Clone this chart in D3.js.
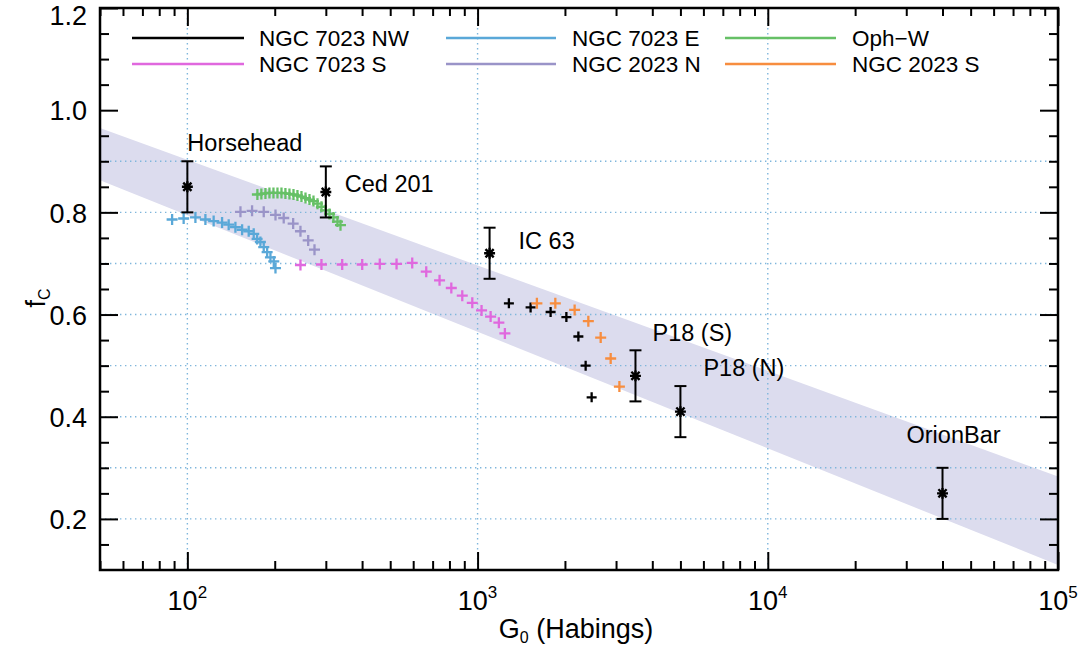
<!DOCTYPE html>
<html>
<head>
<meta charset="utf-8">
<script src="https://cdn.jsdelivr.net/npm/d3@7"></script>
<style>
  body { margin: 0; background: #fff; }
  text { font-family: "Liberation Sans", Arial, sans-serif; fill: #000; }
</style>
</head>
<body>
<svg id="chart" width="1083" height="648"></svg>
<script>
// ---- data ----
// NGC 7023 NW (black)
const nwG  = [1282, 1523, 1785, 2023, 2225, 2357, 2472];
const nwFc = [0.622, 0.614, 0.605, 0.595, 0.557, 0.500, 0.438];

// NGC 7023 E (blue)
const eG  = [88.6, 97.1, 106.6, 115.4, 123.2, 131.7, 138.8, 146.4, 154.4, 162.7, 169.3, 173.9, 178.5, 183.3, 188.3, 193.3, 198.5, 201.2];
const eFc = [0.786, 0.788, 0.790, 0.786, 0.783, 0.780, 0.776, 0.771, 0.766, 0.763, 0.758, 0.748, 0.742, 0.732, 0.722, 0.712, 0.704, 0.691];

// Oph-W (green)
const ophG  = [174.3, 179.9, 185.8, 191.8, 198.0, 204.4, 211.0, 217.7, 224.8, 232.1, 239.5, 247.3, 255.3, 263.5, 272.0, 280.8, 289.8, 299.2, 308.9, 318.7, 329.0, 337.0];
const ophFc = [0.835, 0.836, 0.837, 0.838, 0.838, 0.838, 0.838, 0.837, 0.836, 0.835, 0.833, 0.831, 0.828, 0.825, 0.822, 0.817, 0.811, 0.804, 0.797, 0.790, 0.782, 0.775];

// NGC 7023 S (magenta)
const sG  = [245.3, 289.8, 341.6, 400.4, 460.3, 525.8, 595.4, 665.5, 739.6, 811.9, 885.6, 958.9, 1032, 1109, 1184, 1242];
const sFc = [0.697, 0.698, 0.698, 0.698, 0.699, 0.699, 0.701, 0.684, 0.667, 0.652, 0.637, 0.623, 0.608, 0.596, 0.584, 0.563];

// NGC 2023 N (purple)
const n2G  = [152.4, 167.1, 183.3, 201.2, 214.8, 231.5, 245.3, 260.8, 274.2];
const n2Fc = [0.801, 0.803, 0.801, 0.795, 0.789, 0.778, 0.763, 0.745, 0.727];

// NGC 2023 S (orange)
const s2G  = [1601, 1853, 2160, 2408, 2656, 2875, 3081];
const s2Fc = [0.622, 0.622, 0.609, 0.587, 0.555, 0.514, 0.459];

// reference PDRs with error bars
const refNames = ["Horsehead", "Ced 201", "IC 63", "P18 (S)", "P18 (N)", "OrionBar"];
const refG     = [100, 300, 1100, 3500, 5000, 40000];
const refFc    = [0.85, 0.84, 0.72, 0.48, 0.41, 0.25];
const refErr   = [0.05, 0.05, 0.05, 0.05, 0.05, 0.05];

// shaded band (edges at G0 = 50 and 1e5)
const bandG     = [50, 1e5];
const bandUpper = [0.965, 0.283];
const bandLower = [0.863, 0.110];

// axes
const xMajorTicks = [1e2, 1e3, 1e4, 1e5];
const xTickExp    = ["2", "3", "4", "5"];
const yMajorTicks = [0.2, 0.4, 0.6, 0.8, 1.0, 1.2];
const yGridTicks  = [0.2, 0.3, 0.4, 0.5, 0.6, 0.7, 0.8, 0.9];

const series = [
  { name: "NGC 7023 NW", color: "#000000", g: nwG,  fc: nwFc, half: 5 },
  { name: "NGC 7023 E",  color: "#5aa8d8", g: eG,   fc: eFc,  half: 5.5 },
  { name: "Oph\u2212W",  color: "#66c066", g: ophG, fc: ophFc, half: 5.5 },
  { name: "NGC 7023 S",  color: "#e068de", g: sG,   fc: sFc,  half: 5.5 },
  { name: "NGC 2023 N",  color: "#9a94c8", g: n2G,  fc: n2Fc, half: 5.5 },
  { name: "NGC 2023 S",  color: "#f78d3f", g: s2G,  fc: s2Fc, half: 5.5 }
];

// ---- layout ----
const svg = d3.select("#chart");
const pLeft = 100, pRight = 1058, pTop = 8, pBottom = 570;

const x = d3.scaleLog().domain([50, 1e5]).range([pLeft, pRight]);
const y = d3.scaleLinear().domain([0.1, 1.2]).range([pBottom, pTop]);

svg.append("defs").append("clipPath").attr("id", "clip")
  .append("rect").attr("x", pLeft).attr("y", pTop)
  .attr("width", pRight - pLeft).attr("height", pBottom - pTop);

// band
const band = bandG.map((g, i) => ({ g: g, hi: bandUpper[i], lo: bandLower[i] }));
svg.append("path")
  .datum(band)
  .attr("clip-path", "url(#clip)")
  .attr("fill", "#dcdcee")
  .attr("d", d3.area().x(d => x(d.g)).y0(d => y(d.lo)).y1(d => y(d.hi)));

// dotted grid
const grid = svg.append("g").attr("stroke", "#7fb6dc").attr("stroke-width", 1.4)
  .attr("stroke-dasharray", "1.4,3.6");
grid.selectAll("line.h").data(yGridTicks).enter().append("line")
  .attr("x1", pLeft).attr("x2", pRight)
  .attr("y1", d => y(d)).attr("y2", d => y(d));
grid.selectAll("line.v").data(xMajorTicks.slice(0, 3)).enter().append("line")
  .attr("y1", pTop).attr("y2", pBottom)
  .attr("x1", d => x(d)).attr("x2", d => x(d));

// minor x ticks: 2..9 per decade inside the domain
const xMinor = [];
[10, 100, 1000, 10000].forEach(dec => {
  for (let k = 2; k <= 9; k++) {
    const v = dec * k;
    if (v >= 50 && v <= 1e5) xMinor.push(v);
  }
});
const yMinor = d3.range(0.15, 1.2, 0.05).filter(v => Math.abs(v * 5 - Math.round(v * 5)) > 1e-6);

function styleAxis(g) {
  g.select(".domain").remove();
  g.selectAll(".tick line").attr("stroke", "#000").attr("stroke-width", 2);
}

// bottom
svg.append("g").attr("transform", `translate(0,${pBottom})`)
  .call(d3.axisBottom(x).tickValues(xMajorTicks).tickSize(-18).tickFormat(""))
  .call(styleAxis);
svg.append("g").attr("transform", `translate(0,${pBottom})`)
  .call(d3.axisBottom(x).tickValues(xMinor).tickSize(-9).tickFormat(""))
  .call(styleAxis);
// top
svg.append("g").attr("transform", `translate(0,${pTop})`)
  .call(d3.axisTop(x).tickValues(xMajorTicks).tickSize(-18).tickFormat(""))
  .call(styleAxis);
svg.append("g").attr("transform", `translate(0,${pTop})`)
  .call(d3.axisTop(x).tickValues(xMinor).tickSize(-8).tickFormat(""))
  .call(styleAxis);
// left
svg.append("g").attr("transform", `translate(${pLeft},0)`)
  .call(d3.axisLeft(y).tickValues(yMajorTicks).tickSize(-18).tickPadding(13).tickFormat(d3.format(".1f")))
  .call(styleAxis)
  .selectAll("text").attr("font-size", 27).attr("fill", "#000")
  .attr("font-family", "Liberation Sans, Arial, sans-serif")
  .attr("dy", d => d === 1.2 ? "0.62em" : "0.36em");
svg.append("g").attr("transform", `translate(${pLeft},0)`)
  .call(d3.axisLeft(y).tickValues(yMinor).tickSize(-9).tickFormat(""))
  .call(styleAxis);
// right
svg.append("g").attr("transform", `translate(${pRight},0)`)
  .call(d3.axisRight(y).tickValues(yMajorTicks).tickSize(-18).tickFormat(""))
  .call(styleAxis);
svg.append("g").attr("transform", `translate(${pRight},0)`)
  .call(d3.axisRight(y).tickValues(yMinor).tickSize(-9).tickFormat(""))
  .call(styleAxis);

// x tick labels as 10^n
const xl = svg.append("g").attr("font-size", 27).attr("text-anchor", "middle");
xMajorTicks.forEach((v, i) => {
  const t = xl.append("text").attr("x", x(v)).attr("y", 610);
  t.append("tspan").text("10");
  t.append("tspan").attr("font-size", 17).attr("dy", -12).text(xTickExp[i]);
});

// frame
svg.append("rect").attr("x", pLeft).attr("y", pTop)
  .attr("width", pRight - pLeft).attr("height", pBottom - pTop)
  .attr("fill", "none").attr("stroke", "#000").attr("stroke-width", 2.5);

// axis titles
const xt = svg.append("text").attr("x", 576).attr("y", 638)
  .attr("text-anchor", "middle").attr("font-size", 27);
xt.append("tspan").text("G");
xt.append("tspan").attr("font-size", 16).attr("dy", 5).text("0");
xt.append("tspan").attr("dy", -5).text(" (Habings)");

const yt = svg.append("text")
  .attr("transform", "translate(45,298) rotate(-90)")
  .attr("text-anchor", "middle").attr("font-size", 27);
yt.append("tspan").text("f");
yt.append("tspan").attr("font-size", 16).attr("dy", 5).text("C");

// ---- markers ----
const plusSym = {
  draw(ctx, size) {
    const r = Math.sqrt(size);
    ctx.moveTo(-r, 0); ctx.lineTo(r, 0);
    ctx.moveTo(0, -r); ctx.lineTo(0, r);
  }
};
const starSym = {
  draw(ctx, size) {
    const r = Math.sqrt(size), d = r * 0.75;
    ctx.moveTo(-r, 0); ctx.lineTo(r, 0);
    ctx.moveTo(0, -r); ctx.lineTo(0, r);
    ctx.moveTo(-d, -d); ctx.lineTo(d, d);
    ctx.moveTo(-d, d); ctx.lineTo(d, -d);
  }
};

const pts = svg.append("g").attr("clip-path", "url(#clip)");
series.forEach(s => {
  const data = s.g.map((g, i) => ({ g: g, fc: s.fc[i] }));
  pts.append("g").selectAll("path").data(data).enter().append("path")
    .attr("transform", d => `translate(${x(d.g)},${y(d.fc)})`)
    .attr("d", d3.symbol().type(plusSym).size(s.half * s.half))
    .attr("stroke", s.color).attr("stroke-width", 2.3).attr("fill", "none");
});

// reference points with error bars
const refs = refNames.map((n, i) => ({ name: n, g: refG[i], fc: refFc[i], err: refErr[i] }));
const rg = svg.append("g").attr("stroke", "#000").attr("stroke-width", 2).attr("fill", "none");
rg.selectAll("line.bar").data(refs).enter().append("line")
  .attr("x1", d => x(d.g)).attr("x2", d => x(d.g))
  .attr("y1", d => y(d.fc - d.err)).attr("y2", d => y(d.fc + d.err));
rg.selectAll("line.capHi").data(refs).enter().append("line")
  .attr("x1", d => x(d.g) - 6).attr("x2", d => x(d.g) + 6)
  .attr("y1", d => y(d.fc + d.err)).attr("y2", d => y(d.fc + d.err));
rg.selectAll("line.capLo").data(refs).enter().append("line")
  .attr("x1", d => x(d.g) - 6).attr("x2", d => x(d.g) + 6)
  .attr("y1", d => y(d.fc - d.err)).attr("y2", d => y(d.fc - d.err));
rg.selectAll("path").data(refs).enter().append("path")
  .attr("transform", d => `translate(${x(d.g)},${y(d.fc)})`)
  .attr("d", d3.symbol().type(starSym).size(30))
  .attr("stroke-width", 2.4);

// labels (pixel offsets from each point)
const labelDx = [0, 19, 29, 17, 23, -36];
const labelDy = [-36, 0, -4, -35, -36, -50];
svg.append("g").attr("font-size", 23.5).selectAll("text").data(refs).enter().append("text")
  .attr("x", (d, i) => x(d.g) + labelDx[i])
  .attr("y", (d, i) => y(d.fc) + labelDy[i])
  .text(d => d.name);

// ---- legend ----
const legLineX0 = [132, 446, 725];
const legLineX1 = [244, 556, 836];
const legTextX  = [259, 572, 852];
const legRowY   = [38, 64];
const leg = svg.append("g").attr("font-size", 22.5);
series.forEach((s, i) => {
  const c = i % 3, r = Math.floor(i / 3);
  leg.append("line")
    .attr("x1", legLineX0[c]).attr("x2", legLineX1[c])
    .attr("y1", legRowY[r]).attr("y2", legRowY[r])
    .attr("stroke", s.color).attr("stroke-width", 2.5);
  leg.append("text")
    .attr("x", legTextX[c]).attr("y", legRowY[r]).attr("dy", "0.36em")
    .text(s.name);
});
</script>
</body>
</html>
